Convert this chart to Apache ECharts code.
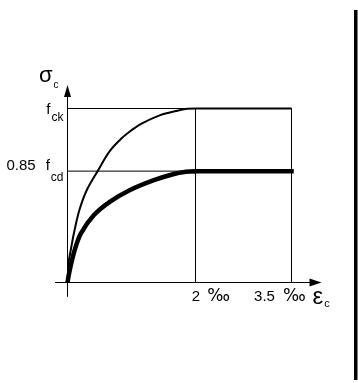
<!DOCTYPE html>
<html>
<head>
<meta charset="utf-8">
<script src="https://cdn.jsdelivr.net/npm/echarts@6/dist/echarts.min.js"></script>
<style>
  html, body { margin: 0; padding: 0; background: #fff; }
  #chart { width: 358px; height: 383px; }
</style>
</head>
<body>
<div id="chart"></div>
<script>
// Stress–strain diagram for concrete: characteristic curve and design curve.
// Strain in per mille, stress as a fraction of f_ck.
const strainTicks = [2, 3.5];
const strainTickText = ['2 ', '3.5 '];
const stressTicks = [0.64, 1];
const fck = 1;
const fcdReduced = 0.64;   // 0.85 f_cd
const peakStrain = 2;
const ultimateStrain = 3.5;

// characteristic curve up to the peak strain
const characteristicRise = [
  [0, 0], [0.02, 0.12], [0.05, 0.185], [0.11, 0.30], [0.185, 0.415],
  [0.30, 0.53], [0.47, 0.64], [0.66, 0.755], [0.85, 0.83], [1.0, 0.875],
  [1.15, 0.912], [1.45, 0.962], [1.70, 0.986], [1.87, 0.998], [2.0, 1.0]
];
// design curve up to the peak strain
const designRise = [
  [0, 0], [0.034, 0.069], [0.11, 0.184], [0.21, 0.282], [0.41, 0.386],
  [0.66, 0.463], [0.97, 0.53], [1.35, 0.588], [1.65, 0.622], [1.85, 0.636],
  [2.0, 0.64]
];

const xMin = -0.1875, xMax = 3.875;
const yMin = -0.08, yMax = 1.10;
const pxPerStrain = 64, pxPerStress = 174;
const originX = 67.5, originY = 282.5;

const sans = "'Liberation Sans', Arial, sans-serif";
const permille = "'DejaVu Sans', sans-serif";

function seg(data, width, cap) {
  return {
    type: 'line', data: data, symbol: 'none', silent: true,
    lineStyle: { color: '#000', width: width, cap: cap || 'butt' }
  };
}
function curve(data, width) {
  const s = seg(data, width);
  s.smooth = 0.35;
  return s;
}
// rich-text piece; the bottom padding lifts the glyphs inside a shared line box
function piece(size, lift, left, right) {
  return {
    fontFamily: sans, fontSize: size, lineHeight: 30, color: '#000',
    verticalAlign: 'bottom', padding: [0, right || 0, lift, left || 0]
  };
}

const chart = echarts.init(document.getElementById('chart'), null, { renderer: 'canvas' });
chart.setOption({
  animation: false,
  backgroundColor: '#fff',
  grid: {
    left: originX + xMin * pxPerStrain,
    width: (xMax - xMin) * pxPerStrain,
    top: originY - yMax * pxPerStress,
    height: (yMax - yMin) * pxPerStress,
    outerBoundsMode: 'none'
  },
  xAxis: {
    type: 'value', min: xMin, max: xMax,
    name: '{e|ε}{s|c}', nameLocation: 'end', nameGap: -3, nameMoveOverlap: false,
    nameTextStyle: {
      align: 'left', verticalAlign: 'top', padding: [3, 0, 0, 0],
      rich: {
        e: { fontFamily: sans, fontSize: 24, lineHeight: 24, color: '#000', verticalAlign: 'bottom' },
        s: { fontFamily: sans, fontSize: 11, lineHeight: 11, color: '#000', verticalAlign: 'bottom', padding: [0, 0, 0, 1] }
      }
    },
    axisLine: { onZero: true, lineStyle: { color: '#000', width: 1 }, symbol: ['none', 'triangle'], symbolSize: [8, 12] },
    axisTick: { show: false },
    splitLine: { show: false },
    axisLabel: {
      customValues: strainTicks, margin: -8,
      formatter: function (v) {
        const i = strainTicks.indexOf(v);
        if (i === 0) return '{a|' + strainTickText[0] + '}{p|‰}';
        if (i === 1) return '{b|' + strainTickText[1] + '}{q|‰}';
        return '';
      },
      rich: {
        a: { fontFamily: sans, fontSize: 15, lineHeight: 16, color: '#000', padding: [0, 0, 0, 31] },
        b: { fontFamily: sans, fontSize: 15, lineHeight: 16, color: '#000' },
        p: { fontFamily: permille, fontSize: 17, lineHeight: 16, color: '#000', padding: [0, 0, 0, 3] },
        q: { fontFamily: permille, fontSize: 17, lineHeight: 16, color: '#000', padding: [0, 23, 0, 4] }
      }
    }
  },
  yAxis: {
    type: 'value', min: yMin, max: yMax,
    name: '{g|σ}{s|c}', nameLocation: 'end', nameGap: 15.6, nameMoveOverlap: false,
    nameTextStyle: {
      align: 'right', verticalAlign: 'middle', padding: [0, 9, 0, 0],
      rich: {
        g: piece(22, 3.2),
        s: piece(10, 0, 1)
      }
    },
    axisLine: { onZero: true, lineStyle: { color: '#000', width: 1 }, symbol: ['none', 'triangle'], symbolSize: [7, 12] },
    axisTick: { show: false },
    splitLine: { show: false },
    axisLabel: {
      customValues: stressTicks, margin: -8, align: 'right',
      formatter: function (v) {
        if (v === fck) return '{f1|f}{s1|ck}';
        if (v === fcdReduced) return '{n2|0.85}{f2|f}{s2|cd}';
        return '';
      },
      rich: {
        f1: piece(15, 6.2),
        s1: piece(12, 0, 1),
        n2: piece(15, 12.8),
        f2: piece(15, 12.8, 10),
        s2: piece(12, 2.3, 1)
      }
    }
  },
  graphic: [
    { type: 'rect', shape: { x: 354, y: 10, width: 3.5, height: 370 }, style: { fill: '#000' }, silent: true }
  ],
  series: [
    seg([[0, fck], [ultimateStrain, fck]], 1),
    seg([[0, fcdReduced], [peakStrain, fcdReduced]], 1),
    seg([[peakStrain, 0], [peakStrain, fck]], 1),
    seg([[ultimateStrain, 0], [ultimateStrain, fck]], 1),
    curve(characteristicRise, 2),
    seg([[peakStrain, fck], [ultimateStrain, fck]], 2),
    curve(designRise, 4.5),
    seg([[peakStrain, fcdReduced], [ultimateStrain, fcdReduced]], 4.5, 'square')
  ]
});
</script>
</body>
</html>
